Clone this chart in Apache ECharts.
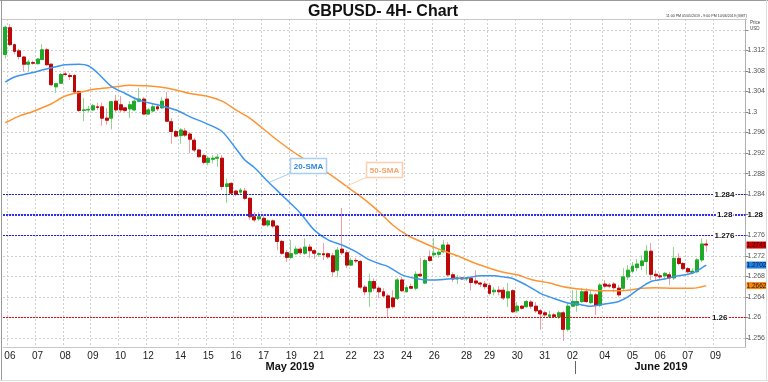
<!DOCTYPE html>
<html><head><meta charset="utf-8">
<script src="https://cdn.jsdelivr.net/npm/echarts@6.0.0/dist/echarts.min.js"></script>
<style>html,body{margin:0;padding:0;background:#fff}#c{width:768px;height:382px}</style>
</head><body><div id="c"></div>
<script>
// ---- GBPUSD 4H candles (open / close / low / high) ----
const openP = [
1.3112,1.3164,1.3131,1.3119,1.3107,1.3093,1.3096,1.3094,1.3102,1.3121,
1.3093,1.3049,1.3056,1.3074,1.3071,1.3071,1.3040,1.3003,1.3004,1.3004,
1.3010,1.3010,1.2988,1.2988,1.3021,1.3014,1.3008,1.3006,1.3004,1.3021,
1.3025,1.2996,1.3002,1.3010,1.3008,1.3025,1.2981,1.2962,1.2954,1.2963,
1.2957,1.2945,1.2926,1.2915,1.2902,1.2908,1.2910,1.2910,1.2855,1.2861,
1.2846,1.2844,1.2846,1.2832,1.2796,1.2792,1.2793,1.2780,1.2788,1.2778,
1.2748,1.2726,1.2717,1.2724,1.2733,1.2725,1.2737,1.2730,1.2723,1.2724,
1.2724,1.2720,1.2692,1.2733,1.2726,1.2702,1.2711,1.2709,1.2659,1.2650,
1.2670,1.2657,1.2650,1.2642,1.2638,1.2637,1.2673,1.2650,1.2660,1.2657,
1.2684,1.2667,1.2718,1.2722,1.2723,1.2728,1.2741,1.2683,1.2675,1.2677,
1.2675,1.2676,1.2671,1.2667,1.2665,1.2662,1.2650,1.2653,1.2653,1.2638,
1.2652,1.2613,1.2622,1.2621,1.2630,1.2622,1.2613,1.2609,1.2602,1.2605,
1.2601,1.2609,1.2577,1.2622,1.2624,1.2631,1.2650,1.2629,1.2644,1.2624,
1.2665,1.2663,1.2665,1.2657,1.2657,1.2679,1.2690,1.2697,1.2701,1.2709,
1.2729,1.2684,1.2681,1.2681,1.2683,1.2677,1.2715,1.2705,1.2695,1.2688,
1.2689,1.2712,1.2743];
const closeP = [
1.3165,1.3131,1.3118,1.3108,1.3093,1.3097,1.3095,1.3103,1.3121,1.3092,
1.3053,1.3055,1.3073,1.3073,1.3069,1.3039,1.3003,1.3004,1.3005,1.3012,
1.3009,1.2988,1.2984,1.3020,1.3004,1.3004,1.3003,1.3014,1.3021,1.3025,
1.2996,1.3004,1.3010,1.3006,1.3021,1.2982,1.2962,1.2953,1.2965,1.2955,
1.2947,1.2926,1.2913,1.2902,1.2910,1.2910,1.2912,1.2855,1.2860,1.2842,
1.2840,1.2848,1.2832,1.2796,1.2790,1.2796,1.2780,1.2788,1.2778,1.2748,
1.2725,1.2717,1.2724,1.2733,1.2726,1.2737,1.2730,1.2725,1.2724,1.2722,
1.2718,1.2689,1.2731,1.2726,1.2702,1.2711,1.2710,1.2659,1.2650,1.2670,
1.2657,1.2650,1.2642,1.2619,1.2621,1.2673,1.2652,1.2658,1.2657,1.2684,
1.2681,1.2711,1.2711,1.2725,1.2727,1.2741,1.2683,1.2675,1.2677,1.2675,
1.2677,1.2668,1.2667,1.2665,1.2660,1.2647,1.2653,1.2650,1.2638,1.2650,
1.2611,1.2622,1.2618,1.2631,1.2622,1.2613,1.2607,1.2605,1.2605,1.2602,
1.2609,1.2577,1.2622,1.2631,1.2631,1.2650,1.2631,1.2644,1.2624,1.2663,
1.2661,1.2661,1.2658,1.2644,1.2679,1.2692,1.2700,1.2704,1.2710,1.2729,
1.2684,1.2681,1.2679,1.2686,1.2677,1.2715,1.2705,1.2695,1.2689,1.2690,
1.2712,1.2743,1.2741];
const lowP = [
1.3104,1.3128,1.3112,1.3102,1.3079,1.3079,1.3092,1.3093,1.3101,1.3090,
1.3051,1.3037,1.3055,1.3070,1.3062,1.3037,1.3000,1.2982,1.3000,1.3002,
1.3004,1.2973,1.2975,1.2966,1.3000,1.3000,1.3000,1.2988,1.3002,1.3019,
1.2994,1.2994,1.3000,1.3002,1.3006,1.2981,1.2938,1.2951,1.2938,1.2951,
1.2920,1.2922,1.2911,1.2898,1.2896,1.2900,1.2893,1.2848,1.2823,1.2838,
1.2836,1.2840,1.2828,1.2790,1.2786,1.2788,1.2778,1.2776,1.2774,1.2731,
1.2722,1.2708,1.2714,1.2722,1.2722,1.2722,1.2716,1.2714,1.2718,1.2712,
1.2714,1.2679,1.2679,1.2722,1.2696,1.2700,1.2706,1.2655,1.2643,1.2620,
1.2651,1.2638,1.2638,1.2599,1.2617,1.2634,1.2650,1.2649,1.2655,1.2653,
1.2679,1.2665,1.2708,1.2716,1.2716,1.2725,1.2679,1.2669,1.2665,1.2673,
1.2671,1.2653,1.2663,1.2659,1.2655,1.2643,1.2643,1.2643,1.2634,1.2620,
1.2609,1.2609,1.2615,1.2619,1.2617,1.2609,1.2576,1.2601,1.2599,1.2599,
1.2597,1.2554,1.2573,1.2620,1.2611,1.2628,1.2628,1.2626,1.2605,1.2620,
1.2657,1.2657,1.2649,1.2640,1.2653,1.2673,1.2686,1.2690,1.2692,1.2683,
1.2673,1.2673,1.2675,1.2675,1.2663,1.2673,1.2702,1.2692,1.2686,1.2686,
1.2686,1.2708,1.2728];
const highP = [
1.3168,1.3171,1.3133,1.3123,1.3109,1.3102,1.3100,1.3105,1.3132,1.3125,
1.3095,1.3056,1.3076,1.3079,1.3076,1.3074,1.3041,1.3027,1.3012,1.3016,
1.3018,1.3018,1.3008,1.3021,1.3033,1.3031,1.3010,1.3021,1.3025,1.3047,
1.3029,1.3008,1.3016,1.3016,1.3029,1.3039,1.2988,1.2965,1.2969,1.2969,
1.2961,1.2949,1.2928,1.2918,1.2914,1.2916,1.2918,1.2916,1.2870,1.2863,
1.2848,1.2852,1.2852,1.2834,1.2805,1.2805,1.2799,1.2791,1.2791,1.2780,
1.2751,1.2731,1.2751,1.2739,1.2737,1.2754,1.2743,1.2733,1.2727,1.2745,
1.2726,1.2726,1.2737,1.2813,1.2731,1.2716,1.2716,1.2712,1.2663,1.2685,
1.2676,1.2661,1.2657,1.2646,1.2653,1.2677,1.2679,1.2663,1.2666,1.2690,
1.2716,1.2714,1.2731,1.2755,1.2731,1.2751,1.2747,1.2688,1.2683,1.2679,
1.2679,1.2679,1.2692,1.2669,1.2671,1.2667,1.2659,1.2661,1.2659,1.2667,
1.2655,1.2630,1.2624,1.2634,1.2634,1.2630,1.2617,1.2613,1.2613,1.2609,
1.2613,1.2613,1.2628,1.2653,1.2653,1.2657,1.2657,1.2653,1.2648,1.2667,
1.2673,1.2667,1.2669,1.2663,1.2696,1.2702,1.2708,1.2714,1.2721,1.2741,
1.2745,1.2692,1.2686,1.2688,1.2689,1.2737,1.2725,1.2708,1.2698,1.2696,
1.2716,1.2754,1.2752];

// ---- moving averages, read at [candle index, price] ----
const sma20 = [[0,1.3058],[2,1.3068],[6,1.3077],[10,1.3086],[13,1.3092],[16,1.3093],[18,1.3090],[20,1.3076],
[23,1.3050],[26,1.3036],[29,1.3023],[33,1.3014],[37,1.3004],[40,1.2991],[44,1.2976],[47,1.2962],[50,1.2929],
[52,1.2906],[54,1.2892],[57,1.2864],[60,1.2838],[64,1.2803],[67,1.2770],[70,1.2751],[73,1.2741],[76,1.2728],
[79,1.2712],[81,1.2705],[83,1.2699],[86,1.2683],[89,1.2676],[92,1.2673],[95,1.2674],[97,1.2676],[100,1.2677],
[103,1.2681],[106,1.2681],[108,1.2679],[110,1.2676],[113,1.2663],[116,1.2647],[119,1.2637],[122,1.2628],
[124,1.2626],[127,1.2622],[130,1.2626],[133,1.2631],[135,1.2640],[137,1.2653],[140,1.2670],[143,1.2675],
[146,1.2681],[149,1.2686],[150,1.2691],[152,1.2702]];
const sma50 = [[0,1.2979],[3,1.2992],[6,1.3001],[10,1.3016],[13,1.3031],[17,1.3040],[20,1.3045],[24,1.3049],
[27,1.3052],[30,1.3051],[33,1.3049],[37,1.3043],[40,1.3036],[44,1.3030],[47,1.3021],[50,1.3004],[53,1.2988],
[59,1.2945],[64,1.2913],[70,1.2881],[74,1.2855],[78,1.2829],[81,1.2806],[84,1.2780],[87,1.2761],[91,1.2744],
[94,1.2733],[98,1.2720],[102,1.2705],[105,1.2696],[108,1.2688],[111,1.2683],[114,1.2674],[118,1.2667],
[121,1.2660],[125,1.2655],[129,1.2652],[132,1.2652],[135,1.2653],[138,1.2657],[141,1.2658],[145,1.2657],
[149,1.2657],[152,1.2662]];

// ---- axes / levels ----
const dayTickIndex = [1,7,13,19,25,31,38,44,50,56,62,68,75,81,87,93,100,105,111,117,123,130,136,142,148,154];
const dayTickLabel = ['06 May','07 May','08 May','09 May','10 May','12 May','14 May','15 May','16 May','17 May',
'19 May','21 May','22 May','23 May','24 May','26 May','28 May','29 May','30 May','31 May','02 Jun','04 Jun',
'05 Jun','06 Jun','07 Jun','09 Jun'];
const slotCount = 161;
const yTicks = [1.256,1.26,1.264,1.268,1.272,1.276,1.28,1.284,1.288,1.292,1.296,1.3,1.304,1.308,1.312,1.316];
const yTickLabels = [1.256,1.26,1.264,1.268,1.272,1.276,1.28,1.284,1.288,1.292,1.296,1.3,1.304,1.308,1.312];
const levelValues = [1.284, 1.28, 1.276, 1.26];
const levelColors = ['#2424a8', '#2e2ef8', '#2020d0', '#dd1010'];
const levelWidths = [1, 2, 1, 1];
const levelLabelGap = [10, 12, 10, 17];
const tagColors = ['#cc0000', '#1f7fe0', '#f5850f'];
const tagTextColors = ['#2a0000', '#0a1a40', '#2a1500'];

const FONT = 'Liberation Sans, Arial, sans-serif';
const tickSet = new Set(dayTickIndex);
const categories = Array.from({length: slotCount}, (_, i) => {
  const k = dayTickIndex.indexOf(i);
  return k >= 0 ? dayTickLabel[k] : 'slot' + i;
});
const fmt = v => String(parseFloat(Number(v).toFixed(4)));

const candleFull = openP.map((o, i) => [o, closeP[i], lowP[i], highP[i]]);
const candleBody = openP.map((o, i) => [o, closeP[i], Math.min(o, closeP[i]), Math.max(o, closeP[i])]);
const lastIdx = closeP.length - 1;
const tagData = [
  [lastIdx, closeP[lastIdx], 0],
  [lastIdx, sma20[sma20.length - 1][1], 1],
  [lastIdx, sma50[sma50.length - 1][1], 2]
];

function renderLevel(params, api) {
  const v = api.value(1), k = api.value(2);
  const cs = params.coordSys;
  const y = Math.round(api.coord([0, v])[1]) + (levelWidths[k] === 1 ? 0.5 : 0);
  const xr = cs.x + cs.width;
  return {type: 'group', children: [
    {type: 'line', shape: {x1: Math.round(cs.x), y1: y, x2: xr, y2: y},
      style: {stroke: levelColors[k], lineWidth: levelWidths[k], lineDash: [2, 1], opacity: 1}},
    {type: 'text', x: xr - levelLabelGap[k], y: y,
      style: {text: fmt(v), fill: '#111', font: 'bold 8px ' + FONT, align: 'right', verticalAlign: 'middle',
        backgroundColor: '#fff', padding: [0, 1]}}
  ]};
}
function renderTag(params, api) {
  const v = api.value(1), k = api.value(2);
  const cs = params.coordSys;
  const y = api.coord([0, v])[1];
  const x = cs.x + cs.width + 1;
  return {type: 'group', children: [
    {type: 'rect', shape: {x: x, y: y - 3.5, width: 20, height: 7}, style: {fill: tagColors[k]}},
    {type: 'text', x: x + 10, y: y + 0.5,
      style: {text: v.toFixed(4), fill: tagTextColors[k], font: '6.5px ' + FONT, align: 'center', verticalAlign: 'middle'}}
  ]};
}

const chart = echarts.init(document.getElementById('c'), null, {renderer: 'canvas'});
chart.setOption({
  animation: false,
  backgroundColor: '#fff',
  grid: {left: 3, right: 21, top: 19, bottom: 35, containLabel: false},
  xAxis: {
    type: 'category', data: categories, boundaryGap: true,
    axisLine: {show: true, lineStyle: {color: '#c8c8c8'}},
    axisTick: {show: false},
    axisLabel: {interval: (i) => tickSet.has(i), formatter: v => v.slice(0, 2),
      fontSize: 10, color: '#222', fontFamily: FONT, margin: 4},
    splitLine: {show: true, interval: (i) => tickSet.has(i), lineStyle: {color: '#cfcfcf', type: [2, 2]}}
  },
  yAxis: {
    type: 'value', position: 'right', min: 1.25425, max: 1.3181,
    axisLine: {show: true, lineStyle: {color: '#b0b0b0'}},
    axisTick: {show: true, length: 3, customValues: yTicks, lineStyle: {color: '#888'}},
    axisLabel: {customValues: yTickLabels, fontSize: 7, color: '#555', fontFamily: FONT, margin: 2,
      formatter: v => Math.abs(v - 1.28) < 1e-9 ? '{b|1.28}' : fmt(v),
      rich: {b: {fontWeight: 'bold', fontSize: 8, color: '#111', fontFamily: FONT}}},
    splitLine: {show: true, lineStyle: {color: '#cfcfcf', type: [2, 2]}}
  },
  series: [
    {
      name: 'wicks', type: 'candlestick', data: candleFull, barWidth: '74%', z: 2,
      itemStyle: {color: '#8fd88f', color0: '#f0a0a0', borderColor: '#8fd88f', borderColor0: '#f0a0a0', borderWidth: 1}
    },
    {
      name: 'bodies', type: 'candlestick', data: candleBody, barWidth: '74%', z: 3,
      itemStyle: {color: '#1faa2a', color0: '#bb0808', borderColor: '#1faa2a', borderColor0: '#bb0808', borderWidth: 1}
    },
    {
      name: '20-SMA', type: 'line', data: sma20, showSymbol: false, smooth: 0.3, z: 5,
      lineStyle: {color: '#3b95ee', width: 1.5}
    },
    {
      name: '50-SMA', type: 'line', data: sma50, showSymbol: false, smooth: 0.3, z: 4,
      lineStyle: {color: '#ff9433', width: 1.5}
    },
    {
      name: 'levels', type: 'custom', data: levelValues.map((v, k) => [0, v, k]),
      encode: {x: 0, y: 1}, renderItem: renderLevel, z: 6, silent: true
    },
    {
      name: 'tags', type: 'custom', data: tagData, encode: {x: 0, y: 1},
      renderItem: renderTag, z: 10, silent: true, clip: false
    }
  ],
  graphic: [
    {type: 'line', z: 100, shape: {x1: 0, y1: 0.5, x2: 768, y2: 0.5}, style: {stroke: '#9a9a9a', lineWidth: 1}},
    {type: 'line', z: 100, shape: {x1: 1.5, y1: 0, x2: 1.5, y2: 381}, style: {stroke: '#9a9a9a', lineWidth: 1}},
    {type: 'line', z: 100, shape: {x1: 0, y1: 380.5, x2: 768, y2: 380.5}, style: {stroke: '#dddddd', lineWidth: 1}},
    {type: 'line', z: 100, shape: {x1: 766.5, y1: 0, x2: 766.5, y2: 381}, style: {stroke: '#dddddd', lineWidth: 1}},
    {type: 'line', z: 100, shape: {x1: 2, y1: 19.5, x2: 747, y2: 19.5}, style: {stroke: '#c8c8c8', lineWidth: 1}},
    {type: 'text', z: 100, x: 383, y: 12, style: {text: 'GBPUSD- 4H- Chart', font: 'bold 16px ' + FONT, fill: '#111', align: 'center', verticalAlign: 'middle'}},
    {type: 'text', z: 100, x: 747, y: 15.5, style: {text: '11:00 PM 05/05/2019 - 9:00 PM 10/06/2019 (GMT)', font: '3.6px ' + FONT, fill: '#333', align: 'right', verticalAlign: 'middle'}},
    {type: 'text', z: 100, x: 750, y: 22.5, style: {text: 'Price', font: '4.5px ' + FONT, fill: '#444', align: 'left', verticalAlign: 'middle'}},
    {type: 'text', z: 100, x: 750, y: 29, style: {text: 'USD', font: '4.5px ' + FONT, fill: '#444', align: 'left', verticalAlign: 'middle'}},
    {type: 'text', z: 100, x: 290, y: 367, style: {text: 'May 2019', font: 'bold 11px ' + FONT, fill: '#111', align: 'center', verticalAlign: 'middle'}},
    {type: 'text', z: 100, x: 661, y: 367, style: {text: 'June 2019', font: 'bold 11px ' + FONT, fill: '#111', align: 'center', verticalAlign: 'middle'}},
    {type: 'line', z: 100, shape: {x1: 575.5, y1: 361, x2: 575.5, y2: 374}, style: {stroke: '#666', lineWidth: 1}},
    {type: 'line', z: 100, shape: {x1: 290, y1: 173.5, x2: 270, y2: 182}, style: {stroke: '#a9cff5', lineWidth: 1}},
    {type: 'rect', z: 100, shape: {x: 290.5, y: 158.5, width: 36, height: 15}, style: {fill: '#fff', stroke: '#a9cff5', lineWidth: 1.5}},
    {type: 'text', z: 101, x: 308.5, y: 166.5, style: {text: '20-SMA', font: 'bold 8px ' + FONT, fill: '#2f86e0', align: 'center', verticalAlign: 'middle'}},
    {type: 'line', z: 100, shape: {x1: 366, y1: 177.5, x2: 345, y2: 186.7}, style: {stroke: '#fcd0ae', lineWidth: 1}},
    {type: 'rect', z: 100, shape: {x: 366.5, y: 162.5, width: 36, height: 15}, style: {fill: '#fff', stroke: '#fcd0ae', lineWidth: 1.5}},
    {type: 'text', z: 101, x: 384.5, y: 170.5, style: {text: '50-SMA', font: 'bold 8px ' + FONT, fill: '#f6a46a', align: 'center', verticalAlign: 'middle'}}
  ]
});
</script>
</body></html>
